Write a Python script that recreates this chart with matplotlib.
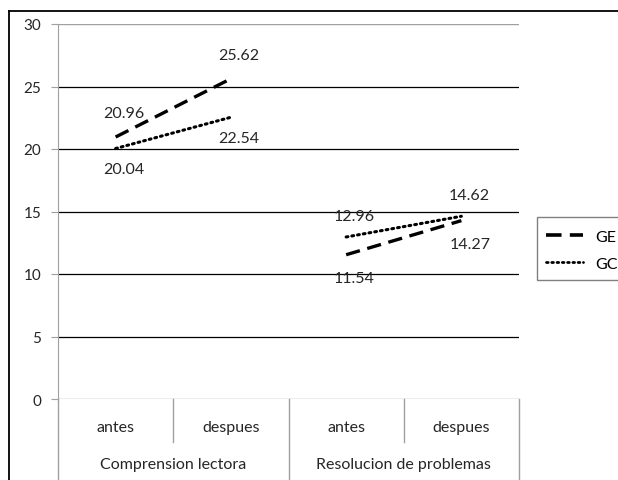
import matplotlib.pyplot as plt
import matplotlib.lines as mlines
from matplotlib.patches import Rectangle
import numpy as np

plt.rcParams['font.family'] = ['Lato', 'DejaVu Sans']

sub_labels = ['antes', 'despues', 'antes', 'despues']
groups = ['Comprension lectora', 'Resolucion de problemas']
ge = [20.96, 25.62, 11.54, 14.27]
gc = [20.04, 22.54, 12.96, 14.62]
# label above (+1) or below (-1) each point
ge_side = [1, 1, -1, -1]
gc_side = [-1, -1, 1, 1]

W, H = 618, 481
fig = plt.figure(figsize=(W / 100, H / 100), dpi=100)
ax = fig.add_axes([58 / W, 1 - 400 / H, (519 - 58) / W, (400 - 25) / H])

x = np.arange(len(sub_labels))
ax.set_xlim(-0.5, 3.5)
ax.set_ylim(0, 30)

txt = '#262626'
ge_dash = (4.3, 2.3)
gc_dot = (0, (0.6, 1.3))

# gridlines
for v in range(5, 30, 5):
    ax.axhline(v, color='black', lw=0.9, zorder=1)
ax.axhline(30, color='#a0a0a0', lw=1.0, zorder=1)
ax.axhline(0, color='#a0a0a0', lw=1.0, zorder=1)

# series, one segment per group (no link between groups)
for g in range(2):
    idx = [2 * g, 2 * g + 1]
    ax.plot(x[idx], [ge[i] for i in idx], color='black', lw=2.4,
            dashes=ge_dash, dash_capstyle='butt', zorder=3)
    ax.plot(x[idx], [gc[i] for i in idx], color='black', lw=2.2,
            linestyle=gc_dot, dash_capstyle='round', zorder=3)

for xi, v, s in zip(x, ge, ge_side):
    ax.annotate(f'{v:.2f}', (xi, v), xytext=(6, 17 * s), textcoords='offset points',
                ha='center', va='center', fontsize=11.5, color=txt, zorder=4)
for xi, v, s in zip(x, gc, gc_side):
    ax.annotate(f'{v:.2f}', (xi, v), xytext=(6, 15 * s), textcoords='offset points',
                ha='center', va='center', fontsize=11.5, color=txt, zorder=4)

# axes styling
for sp in ['top', 'right', 'bottom']:
    ax.spines[sp].set_visible(False)
ax.spines['left'].set_color('#a0a0a0')
ax.set_yticks(range(0, 31, 5))
ax.tick_params(axis='y', length=5, color='#a0a0a0', labelsize=11, pad=7, labelcolor=txt)
ax.set_xticks([])

# category axis (two levels)
tr = ax.get_xaxis_transform()
px = 1 / (400 - 25)
for xi, lab in zip(x, sub_labels):
    ax.text(xi, -28 * px, lab, transform=tr, ha='center', va='center', fontsize=11.5, color=txt)
for gi, lab in enumerate(groups):
    ax.text(2 * gi + 0.5, -65 * px, lab, transform=tr, ha='center', va='center', fontsize=11.5, color=txt)
for xs in [0.5, 2.5]:
    ax.plot([xs, xs], [0, -43 * px], transform=tr, color='#a0a0a0', lw=1.0, clip_on=False)
for xs in [-0.5, 1.5, 3.5]:
    ax.plot([xs, xs], [0, -90 * px], transform=tr, color='#a0a0a0', lw=1.0, clip_on=False)

# outer chart border (cropped on right and bottom)
fig.add_artist(mlines.Line2D([9 / W, 1.02], [1 - 12 / H, 1 - 12 / H], color='black', lw=1.3))
fig.add_artist(mlines.Line2D([9 / W, 9 / W], [1 - 12 / H, -0.02], color='black', lw=1.3))

# legend, box runs past right edge
fig.add_artist(Rectangle((537 / W, 1 - 281 / H), 100 / W, 63 / H, transform=fig.transFigure,
                         fill=False, edgecolor='#808080', lw=1.0))
h_ge = mlines.Line2D([], [], color='black', lw=2.6, dashes=(4.3, 2.3), dash_capstyle='butt')
h_gc = mlines.Line2D([], [], color='black', lw=2.0, linestyle=gc_dot, dash_capstyle='round')
fig.legend([h_ge, h_gc], ['GE', 'GC'], loc='center left',
           bbox_to_anchor=(537 / W, 1 - 251 / H), frameon=False, fontsize=11.5,
           handlelength=2.3, handletextpad=0.8, labelspacing=0.8, borderpad=0.55,
           borderaxespad=0)

fig.savefig('out.png', dpi=100)
